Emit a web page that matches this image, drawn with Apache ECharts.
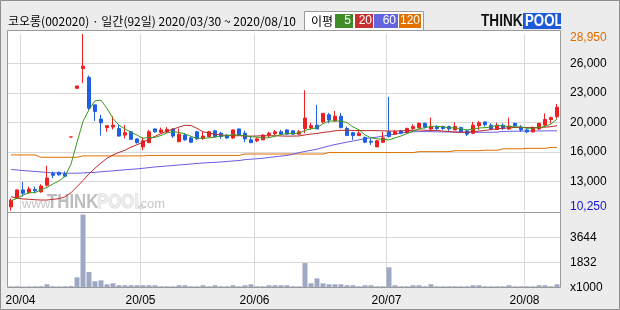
<!DOCTYPE html>
<html><head><meta charset="utf-8">
<script src="https://cdn.jsdelivr.net/npm/echarts@6/dist/echarts.min.js"></script>
<style>html,body{margin:0;padding:0;background:#ececec}#c{width:620px;height:310px}</style>
</head><body><div id="c"></div>
<script>
const dates = [
'2020-03-30','2020-03-31',
'2020-04-01','2020-04-02','2020-04-03','2020-04-06','2020-04-07','2020-04-08','2020-04-09','2020-04-10','2020-04-13','2020-04-14','2020-04-16','2020-04-17','2020-04-20','2020-04-21','2020-04-22','2020-04-23','2020-04-24','2020-04-27','2020-04-28','2020-04-29',
'2020-05-04','2020-05-06','2020-05-07','2020-05-08','2020-05-11','2020-05-12','2020-05-13','2020-05-14','2020-05-15','2020-05-18','2020-05-19','2020-05-20','2020-05-21','2020-05-22','2020-05-25','2020-05-26','2020-05-27','2020-05-28','2020-05-29',
'2020-06-01','2020-06-02','2020-06-03','2020-06-04','2020-06-05','2020-06-08','2020-06-09','2020-06-10','2020-06-11','2020-06-12','2020-06-15','2020-06-16','2020-06-17','2020-06-18','2020-06-19','2020-06-22','2020-06-23','2020-06-24','2020-06-25','2020-06-26','2020-06-29','2020-06-30',
'2020-07-01','2020-07-02','2020-07-03','2020-07-06','2020-07-07','2020-07-08','2020-07-09','2020-07-10','2020-07-13','2020-07-14','2020-07-15','2020-07-16','2020-07-17','2020-07-20','2020-07-21','2020-07-22','2020-07-23','2020-07-24','2020-07-27','2020-07-28','2020-07-29','2020-07-30','2020-07-31',
'2020-08-03','2020-08-04','2020-08-05','2020-08-06','2020-08-07','2020-08-10'
];
const opens = [10650,11550,12450,12150,12500,12250,12950,14200,14300,14150,
18050,23200,25300,24350,21450,19950,19050,19100,18950,18250,
18600,17850,17000,17450,18900,18550,18600,18900,17550,18250,
17950,18600,17900,18100,18700,18450,18250,17950,18900,18450,
17750,17650,17750,18250,18400,18600,18800,18700,18350,18950,
19050,19300,19650,20400,19750,20250,18950,18500,18200,18000,
17600,17000,17500,18600,18350,18700,18500,18950,19050,19500,
18900,19150,19150,19150,18800,19050,18700,18450,19250,19650,
19300,18850,19300,18900,19500,19100,18800,18600,18900,19300,
19900,20200];
const closes = [11350,12450,12100,12550,12350,12850,13700,14000,14050,13900,
18050,23450,25550,21100,20750,19550,19250,19300,18150,18500,
17800,17450,17650,18600,18600,18800,18850,18150,18350,17750,
17500,17850,18150,18600,18100,18100,17950,18800,18250,17850,
17450,17850,18250,18450,18600,18350,18350,18350,18600,20050,
19250,18900,20550,19850,20250,19050,18200,18200,18450,17500,
17500,17650,17950,18100,18600,18450,18950,19150,19500,19100,
19150,18950,18950,18900,19150,18600,18350,19300,19550,19350,
18900,19300,18950,19200,19250,18800,18600,19050,19500,19900,
20100,21200];
const lows = [10250,11500,11750,12100,12100,12150,12800,13700,13950,13800,
18050,23150,23750,20900,19750,18200,18600,18850,18100,17900,
17750,17350,16650,17400,18500,18450,18450,17950,17550,17650,
17400,17750,17750,18000,18000,17850,17850,17850,18200,17500,
17400,17500,17700,18000,18250,18300,18300,18300,18250,18450,
18800,18900,19500,19500,19650,18950,18150,17750,18150,17400,
17200,17000,17400,18000,18250,18350,18450,18800,18950,18950,
18700,18800,18800,18700,18800,18500,18150,18350,18800,19150,
18800,18800,18800,18800,19150,18600,18450,18500,18800,19250,
19500,20000];
const highs = [11550,12500,13300,12800,12800,13050,15000,14400,14400,14400,
18050,23450,28950,24550,21450,20400,19250,20250,19300,19300,
18700,17900,18000,18800,18950,19050,19100,18950,18950,18450,
18100,18700,18600,18700,18800,18600,18350,18850,18950,18700,
18100,18000,18350,18600,18800,18800,18850,18750,18800,23000,
19550,21450,20550,20600,20800,20600,19150,18600,18700,18100,
17900,17750,18600,22300,18800,18800,19050,19400,19600,19550,
20100,19300,19250,19250,19600,19150,18800,19650,19750,19650,
19500,19550,19500,20100,19550,19300,18950,19150,19550,20550,
20200,21550];
const volumes = [70,80,60,70,75,80,220,80,70,75,
90,730,5320,1120,440,510,220,290,150,150,
150,150,150,150,150,75,75,75,150,150,
75,75,150,75,150,75,75,150,75,150,
220,75,75,150,150,150,150,75,75,1770,
290,650,290,220,220,220,150,150,75,150,
150,75,75,1460,150,75,75,150,150,75,
220,75,75,75,75,75,75,150,150,75,
75,75,75,150,75,75,75,75,150,150,
75,220];
const ma5 = [11300,11550,11900,12150,12160,12460,12710,13090,13390,13900,
15180,17490,19700,20940,21880,21940,21070,20010,19300,18900,
18550,18250,17910,18000,18010,18210,18490,18600,18540,18370,
18110,17910,17910,17960,18030,18150,18180,18310,18240,18200,
18070,18050,17940,17980,18130,18310,18410,18420,18460,18740,
18920,19020,19470,19720,19760,19720,19580,19110,18820,18270,
17960,17850,17810,17740,17960,18150,18420,18650,18930,19030,
19170,19170,19130,19010,19020,18920,18800,18870,19000,19040,
19100,19290,19220,19150,19130,19110,18970,18980,19040,19170,
19430,19950];
const ma20 = [11730,11590,11490,11460,11410,11380,11380,11460,11520,11730,
12150,12790,13450,14150,14750,15300,15800,16150,16420,16650,
16980,17230,17500,17810,18120,18410,18670,18880,19100,19290,
19260,18970,18600,18480,18340,18270,18210,18180,18190,18150,
18140,18160,18190,18180,18180,18160,18140,18150,18160,18270,
18360,18420,18540,18600,18710,18750,18770,18740,18740,18720,
18730,18720,18700,18680,18680,18690,18720,18760,18800,18760,
18750,18750,18670,18630,18570,18550,18560,18610,18670,18760,
18830,18920,18970,19020,19060,19070,19060,19050,19050,19090,
19140,19250];
const ma60 = [14610,14560,14500,14450,14400,14350,14290,14260,14240,14220,
14210,14220,14240,14280,14310,14370,14420,14470,14530,14580,
14630,14680,14740,14810,14880,14930,14980,15030,15090,15140,
15190,15250,15300,15340,15370,15410,15460,15510,15560,15650,
15700,15750,15800,15880,15960,16030,16100,16230,16400,16520,
16640,16760,16930,17100,17250,17380,17510,17630,17750,17880,
17960,18040,18140,18260,18370,18460,18560,18600,18620,18620,
18620,18600,18590,18580,18570,18560,18550,18550,18550,18550,
18550,18560,18640,18650,18660,18670,18670,18680,18690,18690,
18700,18700];
const ma120 = [16150,16150,16150,16150,16150,
15900,15900,15900,15900,15900,15900,15900,
16050,16050,16050,16050,16050,16050,16050,16050,16050,16050,16050,
16100,16100,16100,16100,16100,16100,16100,16100,16100,16100,16100,16100,16100,16100,16100,16100,
16250,16250,16250,16250,16250,16250,16250,16250,16250,16250,16250,16250,16250,16250,
16400,16400,16400,16400,16400,16400,16400,16400,16400,16400,16400,16400,16400,16400,16400,
16500,16500,16500,16500,16500,16500,
16600,16600,16600,16600,16600,
16650,16650,16650,
16800,16800,16800,16800,
16850,16850,16850,16850,
16950,16950];
const priceMin = 10250, priceMax = 28950;
const priceTickLabels = ['10,250','13,000','16,000','20,000','23,000','26,000','28,950'];
const volMax = 5466;
const volTickLabels = ['x1000','1832','3644',''];

const UP = '#f01e1e', DOWN = '#1f5fe6';
const priceStep = (priceMax - priceMin) / 6;
const priceLabelValues = [0,1,2,3,4,5,6].map(k => priceMin + k * priceStep);
const priceGridValues = priceLabelValues.slice(1, 6);
const isMonthStart = (idx) => idx > 0 && dates[idx].slice(5,7) !== dates[idx-1].slice(5,7);

const chart = echarts.init(document.getElementById('c'), null, {renderer: 'canvas'});
const gridLine = {color: '#d9d9d9', width: 1};
const maLine = (name, data, color, z) => ({
  name, type: 'line', xAxisIndex: 0, yAxisIndex: 0, data, showSymbol: false, symbol: 'none',
  silent: true, z, lineStyle: {color, width: 1}, itemStyle: {color}
});

const option = {
  animation: false,
  backgroundColor: '#ececec',
  grid: [
    {left: 8, width: 552, top: 34, height: 176.7},
    {left: 8, width: 552, top: 212.5, height: 74.8}
  ],
  xAxis: [
    {gridIndex: 0, type: 'category', data: dates, boundaryGap: true,
     axisLine: {show: false}, axisTick: {show: false}, axisLabel: {show: false},
     splitLine: {show: true, interval: (i) => isMonthStart(i), lineStyle: gridLine}},
    {gridIndex: 1, type: 'category', data: dates, boundaryGap: true,
     axisLine: {show: false}, axisTick: {show: false},
     axisLabel: {show: true, interval: (i) => isMonthStart(i), margin: 7,
       formatter: (v) => '20/' + v.slice(5,7), color: '#000', fontSize: 12,
       fontFamily: 'Liberation Sans', padding: [0, 5, 0, 0]},
     splitLine: {show: true, interval: (i) => isMonthStart(i), lineStyle: gridLine}}
  ],
  yAxis: [
    {gridIndex: 0, type: 'value', position: 'right', min: priceMin, max: priceMax,
     axisLine: {show: false},
     axisTick: {show: false, customValues: priceGridValues},
     splitLine: {show: true, lineStyle: gridLine},
     axisLabel: {customValues: priceLabelValues, margin: 10, fontSize: 12, fontFamily: 'Liberation Sans', color: '#000',
       formatter: (v) => {
         const k = Math.round((v - priceMin) / priceStep);
         if (k === 6) return '{hi|' + priceTickLabels[k] + '}';
         if (k === 0) return '{lo|' + priceTickLabels[k] + '}';
         return priceTickLabels[k];
       },
       rich: {
         hi: {color: '#e06c00', fontSize: 12, fontFamily: 'Liberation Sans', padding: [8, 0, 0, 0]},
         lo: {color: '#1414e0', fontSize: 12, fontFamily: 'Liberation Sans', padding: [0, 0, 8, 0]}
       }}},
    {gridIndex: 1, type: 'value', position: 'right', min: 0, max: volMax, interval: volMax / 3,
     axisLine: {show: false}, axisTick: {show: false},
     splitLine: {show: true, showMinLine: false, showMaxLine: false, lineStyle: gridLine},
     axisLabel: {margin: 10, fontSize: 12, fontFamily: 'Liberation Sans', color: '#000',
       formatter: (v) => volTickLabels[Math.round(v / (volMax / 3))] || ''}}
  ],
  series: [
    maLine('MA120', ma120, '#e07000', 3),
    maLine('MA60', ma60, '#6a5ee0', 3),
    {name: 'price', type: 'candlestick', xAxisIndex: 0, yAxisIndex: 0, z: 4, barWidth: 4,
     data: dates.map((d, i) => [opens[i], closes[i], lows[i], highs[i]]),
     itemStyle: {color: UP, color0: DOWN, borderColor: UP, borderColor0: DOWN, borderColorDoji: UP, borderWidth: 1}},
    maLine('MA20', ma20, '#c02a2a', 5),
    maLine('MA5', ma5, '#3c9a1c', 6),
    {name: 'volume', type: 'bar', xAxisIndex: 1, yAxisIndex: 1, data: volumes, barWidth: 5,
     itemStyle: {color: '#9ea8c4'}, silent: true}
  ],
  graphic: [
    {type: 'rect', z: -10, shape: {x: 7, y: 30, width: 554, height: 258}, style: {fill: '#ffffff'}},
    {type: 'text', z: -5, x: 22, y: 204, style: {text: 'www.', font: '13px "Liberation Sans"', fill: '#c6c6c6', align: 'left', verticalAlign: 'middle'}},
    {type: 'text', z: -5, x: 47, y: 202, scaleX: 0.8, style: {text: 'THINK', font: 'bold 21px "Liberation Sans"', fill: '#bdbdbd', align: 'left', verticalAlign: 'middle'}},
    {type: 'text', z: -5, x: 97, y: 202, scaleX: 0.8, style: {text: 'POOL', font: 'bold 21px "Liberation Sans"', fill: '#ececec', stroke: '#d4d4d4', lineWidth: 1, align: 'left', verticalAlign: 'middle'}},
    {type: 'text', z: -5, x: 137, y: 204, style: {text: '.com', font: '13px "Liberation Sans"', fill: '#c6c6c6', align: 'left', verticalAlign: 'middle'}},
    {type: 'rect', z: 100, shape: {x: 7.5, y: 30.5, width: 553, height: 257}, style: {fill: null, stroke: '#9a9a9a', lineWidth: 1}},
    {type: 'line', z: 100, shape: {x1: 7, y1: 212.5, x2: 561, y2: 212.5}, style: {stroke: '#9a9a9a', lineWidth: 1}},
    {type: 'rect', z: 100, shape: {x: 0.5, y: 0.5, width: 619, height: 309}, style: {fill: null, stroke: '#8e8e8e', lineWidth: 1}},
    {type: 'text', z: 100, x: 8, y: 21, style: {text: '코오롱(002020) · 일간(92일) 2020/03/30 ~ 2020/08/10', font: '12px "Noto Sans CJK KR"', fill: '#000', align: 'left', verticalAlign: 'middle'}},
    {type: 'rect', z: 100, shape: {x: 304.5, y: 11.5, width: 119, height: 19}, style: {fill: '#ffffff', stroke: '#9a9a9a', lineWidth: 1}},
    {type: 'text', z: 101, x: 311, y: 21, style: {text: '이평', font: '12px "Noto Sans CJK KR"', fill: '#000', align: 'left', verticalAlign: 'middle'}},
    {type: 'rect', z: 101, shape: {x: 335, y: 14, width: 18, height: 14}, style: {fill: '#3d8c28'}},
    {type: 'text', z: 102, x: 351, y: 21, style: {text: '5', font: '12px "Liberation Sans"', fill: '#fff', align: 'right', verticalAlign: 'middle'}},
    {type: 'rect', z: 101, shape: {x: 355, y: 14, width: 18, height: 14}, style: {fill: '#c83030'}},
    {type: 'text', z: 102, x: 372, y: 21, style: {text: '20', font: '12px "Liberation Sans"', fill: '#fff', align: 'right', verticalAlign: 'middle'}},
    {type: 'rect', z: 101, shape: {x: 374, y: 14, width: 24, height: 14}, style: {fill: '#6464de'}},
    {type: 'text', z: 102, x: 396, y: 21, style: {text: '60', font: '12px "Liberation Sans"', fill: '#fff', align: 'right', verticalAlign: 'middle'}},
    {type: 'rect', z: 101, shape: {x: 399, y: 14, width: 22, height: 14}, style: {fill: '#e07000'}},
    {type: 'text', z: 102, x: 420, y: 21, style: {text: '120', font: '12px "Liberation Sans"', fill: '#fff', align: 'right', verticalAlign: 'middle'}},
    {type: 'text', z: 100, x: 481, y: 21, scaleX: 0.8, style: {text: 'THINK', font: 'bold 17px "Liberation Sans"', fill: '#111', align: 'left', verticalAlign: 'middle'}},
    {type: 'rect', z: 100, shape: {x: 523, y: 13, width: 38, height: 16}, style: {fill: '#1d5ad8'}},
    {type: 'text', z: 101, x: 525, y: 21, scaleX: 0.78, style: {text: 'POOL', font: 'bold 17px "Liberation Sans"', fill: '#fff', align: 'left', verticalAlign: 'middle'}}
  ]
};
chart.setOption(option);
</script></body></html>
